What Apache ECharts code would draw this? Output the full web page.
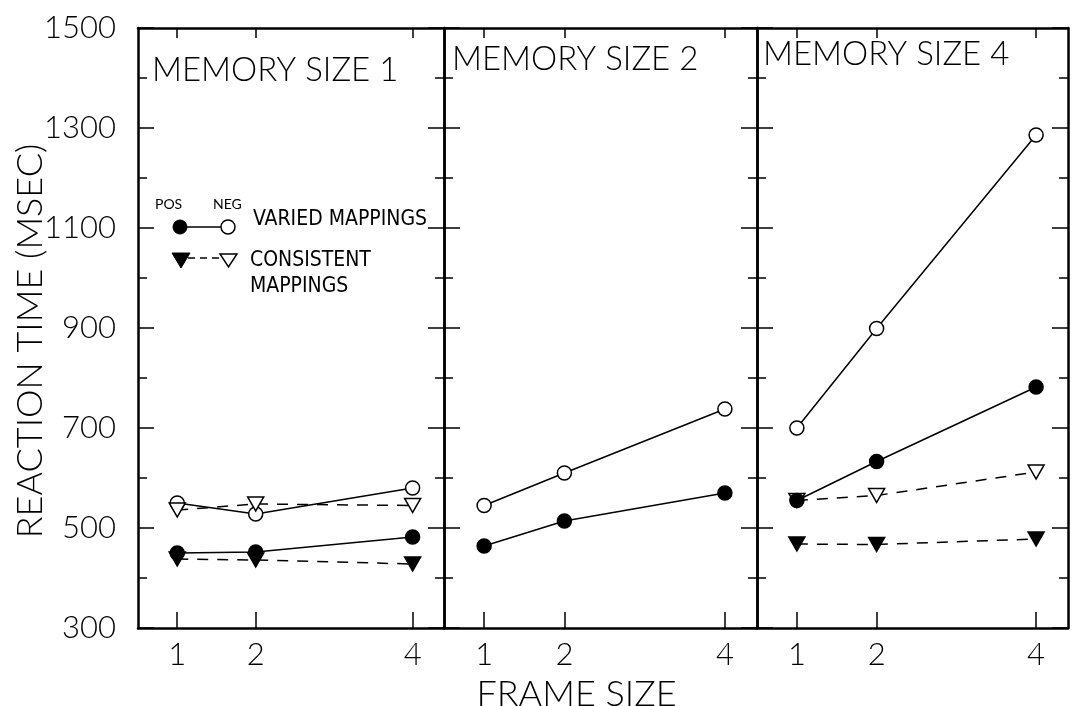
<!DOCTYPE html>
<html><head><meta charset="utf-8">
<script src="https://cdn.jsdelivr.net/npm/echarts@6/dist/echarts.min.js"></script>
<style>html,body{margin:0;padding:0;background:#fff}#c{width:1078px;height:706px}</style>
</head><body><div id="c"></div>
<script>
// ---- data ----
const frameSizes = [1, 2, 4];
const yMajorTicks = [300, 500, 700, 900, 1100, 1300, 1500];
const yMinorTicks = [400, 600, 800, 1000, 1200, 1400];
const panelTitles = ['MEMORY SIZE 1', 'MEMORY SIZE 2', 'MEMORY SIZE 4'];
const yAxisTitle = 'REACTION TIME (MSEC)';
const xAxisTitle = 'FRAME SIZE';

const m1VariedPos      = [450, 452, 482];
const m1VariedNeg      = [550, 528, 580];
const m1ConsistentPos  = [438, 436, 428];
const m1ConsistentNeg  = [536, 548, 545];

const m2VariedPos      = [464, 514, 570];
const m2VariedNeg      = [545, 610, 738];

const m4VariedPos      = [555, 633, 782];
const m4VariedNeg      = [700, 899, 1286];
const m4ConsistentPos  = [468, 467, 478];
const m4ConsistentNeg  = [555, 565, 612];

// ---- layout / style ----
const FONT = "Lato, 'Liberation Sans', Arial, sans-serif";
const FW = 300;
const NARROW = "'Liberation Sans Narrow', 'DejaVu Sans Condensed', 'Roboto Condensed', 'Liberation Sans', sans-serif";
const TOP = 28, HEIGHT = 600;
const grids = [
  {left: 138, top: TOP, width: 306, height: HEIGHT, outerBoundsMode: 'none', containLabel: false},
  {left: 444, top: TOP, width: 313, height: HEIGHT, outerBoundsMode: 'none', containLabel: false},
  {left: 757, top: TOP, width: 311, height: HEIGHT, outerBoundsMode: 'none', containLabel: false}
];
const titlePos = [
  {left: 147, top: 49},
  {left: 447, top: 38},
  {left: 758, top: 33}
];

const panels = [
  [
    {data: m1VariedNeg, kind: 'varied', filled: false},
    {data: m1ConsistentNeg, kind: 'consistent', filled: false},
    {data: m1VariedPos, kind: 'varied', filled: true},
    {data: m1ConsistentPos, kind: 'consistent', filled: true}
  ],
  [
    {data: m2VariedNeg, kind: 'varied', filled: false},
    {data: m2VariedPos, kind: 'varied', filled: true}
  ],
  [
    {data: m4VariedNeg, kind: 'varied', filled: false},
    {data: m4ConsistentNeg, kind: 'consistent', filled: false},
    {data: m4VariedPos, kind: 'varied', filled: true},
    {data: m4ConsistentPos, kind: 'consistent', filled: true}
  ]
];

const axisLine = {show: true, onZero: false, lineStyle: {color: '#000', width: 2.5}};
const xAxes = [], yAxes = [], series = [];

grids.forEach((g, i) => {
  xAxes.push({
    type: 'value', gridIndex: i, position: 'bottom', min: 0.5, max: 4.4,
    axisLine: axisLine, splitLine: {show: false},
    axisTick: {show: true, inside: true, length: 16, customValues: frameSizes, lineStyle: {color: '#000', width: 1.5}},
    axisLabel: {show: true, customValues: frameSizes, formatter: v => String(v), color: '#000', fontSize: 31, fontWeight: FW, fontFamily: FONT, margin: 11},
    name: i === 1 ? xAxisTitle : '', nameLocation: 'middle', nameGap: 48,
    nameTextStyle: {color: '#000', fontSize: 36, fontWeight: FW, fontFamily: FONT, padding: [0, 48, 0, 0]}
  });
  xAxes.push({
    type: 'value', gridIndex: i, position: 'top', min: 0.5, max: 4.4,
    axisLine: axisLine, splitLine: {show: false},
    axisTick: {show: true, inside: true, length: 10, customValues: frameSizes, lineStyle: {color: '#000', width: 1.5}},
    axisLabel: {show: false}
  });
  ['left', 'right'].forEach(pos => {
    const showLabel = (i === 0 && pos === 'left');
    yAxes.push({
      type: 'value', gridIndex: i, position: pos, min: 300, max: 1500,
      axisLine: axisLine, splitLine: {show: false},
      axisTick: {show: true, inside: true, length: 16, customValues: yMajorTicks, lineStyle: {color: '#000', width: 1.5}},
      axisLabel: {show: showLabel, customValues: yMajorTicks, formatter: v => String(v), color: '#000', fontSize: 31, fontWeight: FW, fontFamily: FONT, margin: 22}
    });
    yAxes.push({
      type: 'value', gridIndex: i, position: pos, min: 300, max: 1500,
      axisLine: {show: false}, splitLine: {show: false},
      axisTick: {show: true, inside: true, length: 9, customValues: yMinorTicks, lineStyle: {color: '#000', width: 1.5}},
      axisLabel: {show: false}
    });
  });
  panels[i].forEach(s => {
    series.push({
      type: 'line', xAxisIndex: 2 * i, yAxisIndex: 4 * i,
      data: frameSizes.map((x, j) => [x, s.data[j]]),
      symbol: s.kind === 'varied' ? 'circle' : 'triangle',
      symbolRotate: s.kind === 'varied' ? 0 : 180,
      symbolSize: s.kind === 'varied' ? 14 : [16, 14],
      itemStyle: {color: s.filled ? '#000' : '#fff', borderColor: '#000', borderWidth: 1.5},
      lineStyle: {color: '#000', width: 1.5, type: s.kind === 'varied' ? 'solid' : [11, 9]},
      z: s.filled ? 3 : 2,
      animation: false
    });
  });
});

const titles = panelTitles.map((t, i) => ({
  text: t, left: titlePos[i].left, top: titlePos[i].top,
  textStyle: {color: '#000', fontSize: 33, fontWeight: FW, fontFamily: FONT}
}));

const graphic = [
  {type: 'text', x: 30, y: 341, rotation: Math.PI / 2,
   style: {text: yAxisTitle, font: FW + ' 36px ' + FONT, fill: '#000', align: 'center', verticalAlign: 'middle'}},
  {type: 'text', left: 155, top: 197, style: {text: 'POS', font: '14px ' + FONT, fill: '#000'}},
  {type: 'text', left: 213, top: 197, style: {text: 'NEG', font: '14px ' + FONT, fill: '#000'}},
  {type: 'line', shape: {x1: 180, y1: 227, x2: 228, y2: 227}, style: {stroke: '#000', lineWidth: 1.5}},
  {type: 'circle', shape: {cx: 180, cy: 227, r: 7}, style: {fill: '#000', stroke: '#000'}},
  {type: 'circle', shape: {cx: 228, cy: 227, r: 7}, style: {fill: '#fff', stroke: '#000', lineWidth: 1.5}},
  {type: 'text', left: 253, top: 209, style: {text: 'VARIED MAPPINGS', font: '21px ' + NARROW, fill: '#000'}},
  {type: 'line', shape: {x1: 188, y1: 258, x2: 221, y2: 258}, style: {stroke: '#000', lineWidth: 1.5, lineDash: [7, 5]}},
  {type: 'polygon', shape: {points: [[172, 253], [190, 253], [181, 268]]}, style: {fill: '#000', stroke: '#000'}},
  {type: 'polygon', shape: {points: [[220, 254], [237, 254], [228.5, 267]]}, style: {fill: '#fff', stroke: '#000', lineWidth: 1.5}},
  {type: 'text', left: 250, top: 250, style: {text: 'CONSISTENT', font: '21px ' + NARROW, fill: '#000'}},
  {type: 'text', left: 250, top: 276, style: {text: 'MAPPINGS', font: '21px ' + NARROW, fill: '#000'}}
];

const chart = echarts.init(document.getElementById('c'), null, {renderer: 'canvas'});
chart.setOption({
  backgroundColor: '#fff',
  animation: false,
  title: titles,
  grid: grids,
  xAxis: xAxes,
  yAxis: yAxes,
  series: series,
  graphic: graphic
});
</script>
</body></html>
